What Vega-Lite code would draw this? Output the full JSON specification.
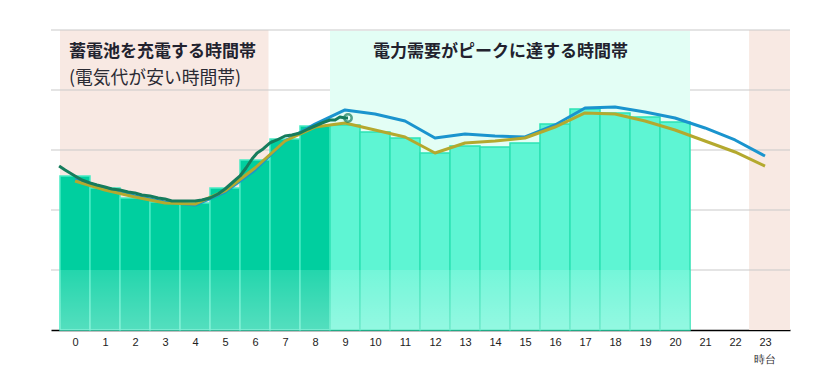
{
  "$schema": "https://vega.github.io/schema/vega-lite/v6.json",
  "width": 739,
  "height": 300,
  "autosize": "none",
  "padding": {"left": 51, "top": 30, "right": 27, "bottom": 47},
  "background": "#ffffff",
  "config": {
    "view": {"stroke": null},
    "axisY": {"disable": true}
  },
  "datasets": {
    "pink": [
      {"start": -0.5, "end": 6.45},
      {"start": 22.47, "end": 23.8333}
    ],
    "mint": [
      {"start": 8.5, "end": 20.5}
    ],
    "grid": [
      {"level": 1}, {"level": 2}, {"level": 3}, {"level": 4}, {"level": 5}
    ],
    "bars": [
      {"hour": 0, "value": 2.567, "zone": "charge"},
      {"hour": 1, "value": 2.367, "zone": "charge"},
      {"hour": 2, "value": 2.2, "zone": "charge"},
      {"hour": 3, "value": 2.133, "zone": "charge"},
      {"hour": 4, "value": 2.117, "zone": "charge"},
      {"hour": 5, "value": 2.367, "zone": "charge"},
      {"hour": 6, "value": 2.833, "zone": "charge"},
      {"hour": 7, "value": 3.183, "zone": "charge"},
      {"hour": 8, "value": 3.4, "zone": "charge"},
      {"hour": 9, "value": 3.417, "zone": "peak"},
      {"hour": 10, "value": 3.3, "zone": "peak"},
      {"hour": 11, "value": 3.2, "zone": "peak"},
      {"hour": 12, "value": 2.95, "zone": "peak"},
      {"hour": 13, "value": 3.067, "zone": "peak"},
      {"hour": 14, "value": 3.05, "zone": "peak"},
      {"hour": 15, "value": 3.117, "zone": "peak"},
      {"hour": 16, "value": 3.433, "zone": "peak"},
      {"hour": 17, "value": 3.683, "zone": "peak"},
      {"hour": 18, "value": 3.617, "zone": "peak"},
      {"hour": 19, "value": 3.55, "zone": "peak"},
      {"hour": 20, "value": 3.467, "zone": "peak"}
    ],
    "lines": [
      {"hour": 0, "series": "blue", "value": 2.517},
      {"hour": 1, "series": "blue", "value": 2.367},
      {"hour": 2, "series": "blue", "value": 2.233},
      {"hour": 3, "series": "blue", "value": 2.133},
      {"hour": 4, "series": "blue", "value": 2.083},
      {"hour": 5, "series": "blue", "value": 2.3},
      {"hour": 6, "series": "blue", "value": 2.667},
      {"hour": 7, "series": "blue", "value": 3.15},
      {"hour": 8, "series": "blue", "value": 3.433},
      {"hour": 9, "series": "blue", "value": 3.667},
      {"hour": 10, "series": "blue", "value": 3.6},
      {"hour": 11, "series": "blue", "value": 3.483},
      {"hour": 12, "series": "blue", "value": 3.2},
      {"hour": 13, "series": "blue", "value": 3.267},
      {"hour": 14, "series": "blue", "value": 3.233},
      {"hour": 15, "series": "blue", "value": 3.217},
      {"hour": 16, "series": "blue", "value": 3.417},
      {"hour": 17, "series": "blue", "value": 3.7},
      {"hour": 18, "series": "blue", "value": 3.717},
      {"hour": 19, "series": "blue", "value": 3.633},
      {"hour": 20, "series": "blue", "value": 3.533},
      {"hour": 21, "series": "blue", "value": 3.367},
      {"hour": 22, "series": "blue", "value": 3.167},
      {"hour": 23, "series": "blue", "value": 2.9},
      {"hour": 0, "series": "olive", "value": 2.483},
      {"hour": 1, "series": "olive", "value": 2.333},
      {"hour": 2, "series": "olive", "value": 2.217},
      {"hour": 3, "series": "olive", "value": 2.117},
      {"hour": 4, "series": "olive", "value": 2.1},
      {"hour": 5, "series": "olive", "value": 2.317},
      {"hour": 6, "series": "olive", "value": 2.7},
      {"hour": 7, "series": "olive", "value": 3.15},
      {"hour": 8, "series": "olive", "value": 3.383},
      {"hour": 9, "series": "olive", "value": 3.45},
      {"hour": 10, "series": "olive", "value": 3.333},
      {"hour": 11, "series": "olive", "value": 3.217},
      {"hour": 12, "series": "olive", "value": 2.95},
      {"hour": 13, "series": "olive", "value": 3.117},
      {"hour": 14, "series": "olive", "value": 3.15},
      {"hour": 15, "series": "olive", "value": 3.2},
      {"hour": 16, "series": "olive", "value": 3.383},
      {"hour": 17, "series": "olive", "value": 3.617},
      {"hour": 18, "series": "olive", "value": 3.6},
      {"hour": 19, "series": "olive", "value": 3.483},
      {"hour": 20, "series": "olive", "value": 3.333},
      {"hour": 21, "series": "olive", "value": 3.15},
      {"hour": 22, "series": "olive", "value": 2.967},
      {"hour": 23, "series": "olive", "value": 2.733}
    ],
    "actual": [
      {"hour": -0.53, "value": 2.733},
      {"hour": -0.33, "value": 2.667},
      {"hour": 0, "value": 2.567},
      {"hour": 0.23, "value": 2.5},
      {"hour": 0.5, "value": 2.45},
      {"hour": 0.73, "value": 2.417},
      {"hour": 1, "value": 2.383},
      {"hour": 1.23, "value": 2.35},
      {"hour": 1.5, "value": 2.333},
      {"hour": 1.77, "value": 2.3},
      {"hour": 2, "value": 2.283},
      {"hour": 2.23, "value": 2.25},
      {"hour": 2.5, "value": 2.233},
      {"hour": 2.77, "value": 2.2},
      {"hour": 3, "value": 2.183},
      {"hour": 3.23, "value": 2.15},
      {"hour": 3.5, "value": 2.15},
      {"hour": 3.77, "value": 2.15},
      {"hour": 4, "value": 2.15},
      {"hour": 4.23, "value": 2.167},
      {"hour": 4.5, "value": 2.2},
      {"hour": 4.77, "value": 2.267},
      {"hour": 5, "value": 2.35},
      {"hour": 5.23, "value": 2.45},
      {"hour": 5.5, "value": 2.567},
      {"hour": 5.7, "value": 2.7},
      {"hour": 5.9, "value": 2.85},
      {"hour": 6.07, "value": 2.95},
      {"hour": 6.27, "value": 3.017},
      {"hour": 6.5, "value": 3.117},
      {"hour": 6.73, "value": 3.167},
      {"hour": 7, "value": 3.233},
      {"hour": 7.23, "value": 3.25},
      {"hour": 7.5, "value": 3.283},
      {"hour": 7.77, "value": 3.35},
      {"hour": 8, "value": 3.4},
      {"hour": 8.23, "value": 3.45},
      {"hour": 8.5, "value": 3.5},
      {"hour": 8.67, "value": 3.5},
      {"hour": 8.83, "value": 3.55},
      {"hour": 9, "value": 3.533},
      {"hour": 9.1, "value": 3.533}
    ],
    "now": [
      {"hour": 9.1, "value": 3.533}
    ],
    "labels": [
      {"hour": -0.2, "value": 4.633, "text": "蓄電池を充電する時間帯", "kind": "bold"},
      {"hour": -0.2, "value": 4.183, "text": "(電気代が安い時間帯)", "kind": "normal"},
      {"hour": 9.93, "value": 4.633, "text": "電力需要がピークに達する時間帯", "kind": "bold"}
    ]
  },
  "encoding": {
    "x": {"type": "quantitative",
          "scale": {"domain": [-0.8, 23.8333], "nice": false, "zero": false, "padding": 0},
          "axis": {
            "title": "時台",
            "values": [0,1,2,3,4,5,6,7,8,9,10,11,12,13,14,15,16,17,18,19,20,21,22,23],
            "ticks": false,
            "grid": false,
            "domainColor": "#000000",
            "domainWidth": 1.5,
            "labelFontSize": 11,
            "labelColor": "#222222",
            "labelPadding": 6,
            "titleFontSize": 11,
            "titleFontWeight": "normal",
            "titleColor": "#333333",
            "titleX": 713,
            "titleY": 29,
            "titleAlign": "center",
            "titleBaseline": "middle"
          }}
  },
  "layer": [
    {
      "data": {"name": "pink"},
      "mark": {"type": "rect", "color": "#F8E9E3"},
      "encoding": {
        "x": {"field": "start", "type": "quantitative"},
        "x2": {"field": "end"},
        "y": {"datum": 0, "type": "quantitative",
              "scale": {"domain": [0, 5], "nice": false, "zero": true}},
        "y2": {"datum": 5}
      }
    },
    {
      "data": {"name": "grid"},
      "mark": {"type": "rule", "color": "#C9C9C9", "strokeWidth": 1},
      "encoding": {
        "x": null,
        "y": {"field": "level", "type": "quantitative"}
      }
    },
    {
      "data": {"name": "mint"},
      "mark": {"type": "rect", "color": "#E3FEF5"},
      "encoding": {
        "x": {"field": "start", "type": "quantitative"},
        "x2": {"field": "end"},
        "y": {"datum": 0, "type": "quantitative"},
        "y2": {"datum": 4.985}
      }
    },
    {
      "data": {"name": "bars"},
      "mark": {"type": "bar", "width": 30, "strokeWidth": 1.5},
      "encoding": {
        "x": {"field": "hour", "type": "quantitative"},
        "y": {"field": "value", "type": "quantitative"},
        "fill": {"field": "zone", "type": "nominal", "legend": null,
                 "scale": {"domain": ["charge", "peak"], "range": ["#00CF9F", "#5EF5D3"]}},
        "stroke": {"field": "zone", "type": "nominal", "legend": null,
                   "scale": {"domain": ["charge", "peak"], "range": ["#48EAC4", "#2DE2B4"]}}
      }
    },
    {
      "data": {"name": "bars"},
      "mark": {"type": "bar", "width": 30, "strokeWidth": 0,
               "fill": {"gradient": "linear", "x1": 0, "y1": 0, "x2": 0, "y2": 1,
                        "stops": [{"offset": 0, "color": "rgba(255,255,255,0.14)"},
                                  {"offset": 1, "color": "rgba(255,255,255,0.33)"}]}},
      "encoding": {
        "x": {"field": "hour", "type": "quantitative"},
        "y": {"datum": 1, "type": "quantitative"},
        "y2": {"datum": 0}
      }
    },
    {
      "data": {"name": "lines"},
      "mark": {"type": "line", "strokeWidth": 3, "strokeJoin": "round"},
      "encoding": {
        "x": {"field": "hour", "type": "quantitative"},
        "y": {"field": "value", "type": "quantitative"},
        "color": {"field": "series", "type": "nominal", "legend": null,
                  "scale": {"domain": ["blue", "olive"], "range": ["#1A94CE", "#B4A92E"]}},
        "order": {"field": "hour", "type": "quantitative"}
      }
    },
    {
      "data": {"name": "actual"},
      "mark": {"type": "line", "strokeWidth": 3, "color": "#167C5C", "strokeJoin": "round"},
      "encoding": {
        "x": {"field": "hour", "type": "quantitative"},
        "y": {"field": "value", "type": "quantitative"}
      }
    },
    {
      "data": {"name": "now"},
      "mark": {"type": "point", "shape": "circle", "size": 55, "strokeWidth": 2.5, "color": "#167C5C", "filled": false},
      "encoding": {
        "x": {"field": "hour", "type": "quantitative"},
        "y": {"field": "value", "type": "quantitative"}
      }
    },
    {
      "data": {"name": "labels"},
      "transform": [{"filter": "datum.kind === 'bold'"}],
      "mark": {"type": "text", "align": "left", "baseline": "middle", "font": "Noto Sans CJK JP", "fontSize": 17, "fontWeight": "bold", "color": "#22222E"},
      "encoding": {
        "x": {"field": "hour", "type": "quantitative"},
        "y": {"field": "value", "type": "quantitative"},
        "text": {"field": "text"}
      }
    },
    {
      "data": {"name": "labels"},
      "transform": [{"filter": "datum.kind === 'normal'"}],
      "mark": {"type": "text", "align": "left", "baseline": "middle", "font": "Noto Sans CJK JP", "fontSize": 17.8, "fontWeight": "normal", "color": "#2A2A33"},
      "encoding": {
        "x": {"field": "hour", "type": "quantitative"},
        "y": {"field": "value", "type": "quantitative"},
        "text": {"field": "text"}
      }
    }
  ]
}
